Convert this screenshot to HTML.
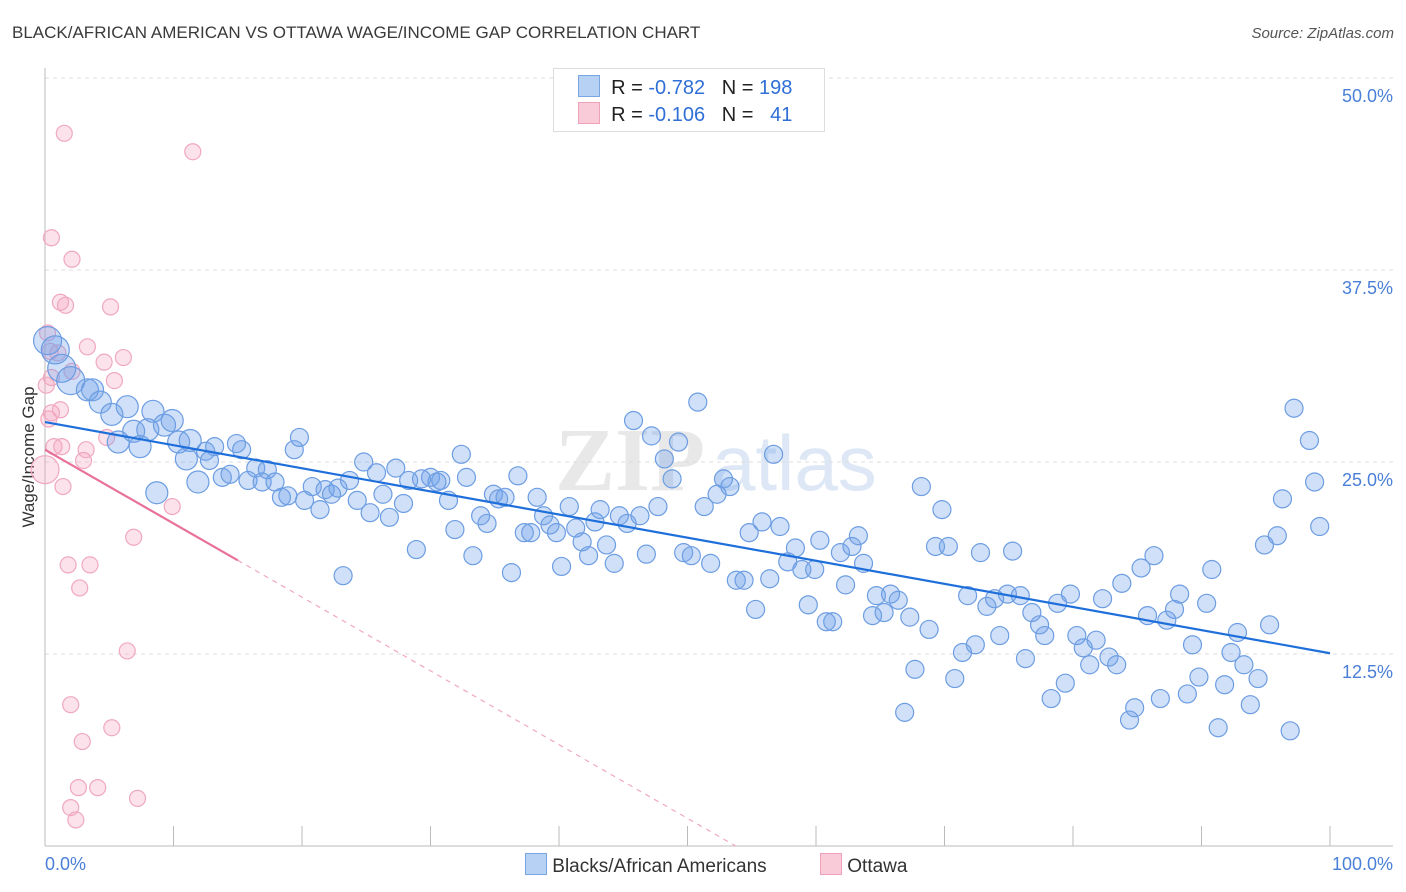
<!DOCTYPE html>
<html><head><meta charset="utf-8">
<style>
body{margin:0;background:#fff;font-family:"Liberation Sans",sans-serif;}
#wrap{position:relative;width:1406px;height:892px;overflow:hidden;}
.t{position:absolute;white-space:nowrap;}
</style></head>
<body>
<div id="wrap">
<div class="t" style="left:12px;top:23px;font-size:17px;color:#3a3a3a;">BLACK/AFRICAN AMERICAN VS OTTAWA WAGE/INCOME GAP CORRELATION CHART</div>
<div class="t" style="right:12px;top:25px;font-size:15px;color:#555;font-style:italic;">Source: ZipAtlas.com</div>
<svg id="plot" width="1406" height="892" style="position:absolute;left:0;top:0"></svg>
</div>
<script>
const blueX=[0.2,0.8,1.3,2.0,3.3,3.7,4.3,5.2,5.7,6.4,6.9,7.4,8.0,8.4,8.7,9.3,9.9,10.4,11.0,11.3,11.9,12.5,12.8,13.2,13.8,14.4,14.9,15.3,15.8,16.4,16.9,17.3,17.9,18.4,18.9,19.4,19.8,20.2,20.8,21.4,21.8,22.3,22.8,23.2,23.7,24.3,24.8,25.3,25.8,26.3,26.8,27.3,27.9,28.3,28.9,29.3,30.0,30.5,30.8,31.4,31.9,32.4,32.8,33.3,33.9,34.4,34.9,35.3,35.8,36.3,36.8,37.3,37.8,38.3,38.8,39.3,39.8,40.2,40.8,41.3,41.8,42.3,42.8,43.2,43.7,44.3,44.7,45.3,45.8,46.3,46.8,47.2,47.7,48.2,48.8,49.3,49.7,50.3,50.8,51.3,51.8,52.3,52.8,53.3,53.8,54.4,54.8,55.3,55.8,56.4,56.7,57.2,57.8,58.4,58.9,59.4,59.9,60.3,60.8,61.3,61.9,62.3,62.8,63.3,63.7,64.4,64.7,65.3,65.8,66.4,66.9,67.3,67.7,68.2,68.8,69.3,69.8,70.3,70.8,71.4,71.8,72.4,72.8,73.3,73.9,74.3,74.9,75.3,75.9,76.3,76.8,77.4,77.8,78.3,78.8,79.4,79.8,80.3,80.8,81.3,81.8,82.3,82.8,83.4,83.8,84.4,84.8,85.3,85.8,86.3,86.8,87.3,87.9,88.3,88.9,89.3,89.8,90.4,90.8,91.3,91.8,92.3,92.8,93.3,93.8,94.4,94.9,95.3,95.9,96.3,96.9,97.2,98.4,98.8,99.2];
const blueY=[32.9,32.3,31.1,30.3,29.7,29.7,28.9,28.1,26.3,28.6,27.0,26.0,27.1,28.3,23.0,27.4,27.7,26.3,25.2,26.4,23.7,25.7,25.1,26.0,24.0,24.2,26.2,25.8,23.8,24.6,23.7,24.5,23.7,22.7,22.8,25.8,26.6,22.5,23.4,21.9,23.2,22.9,23.3,17.6,23.8,22.5,25.0,21.7,24.3,22.9,21.4,24.6,22.3,23.8,19.3,23.9,24.0,23.7,23.8,22.5,20.6,25.5,24.0,18.9,21.5,21.0,22.9,22.6,22.7,17.8,24.1,20.4,20.4,22.7,21.5,20.9,20.4,18.2,22.1,20.7,19.8,18.9,21.1,21.9,19.6,18.4,21.5,21.0,27.7,21.5,19.0,26.7,22.1,25.2,23.9,26.3,19.1,18.9,28.9,22.1,18.4,22.9,23.9,23.4,17.3,17.3,20.4,15.4,21.1,17.4,25.5,20.8,18.5,19.4,18.0,15.7,18.0,19.9,14.6,14.6,19.1,17.0,19.5,20.2,18.4,15.0,16.3,15.2,16.4,16.0,8.7,14.9,11.5,23.4,14.1,19.5,21.9,19.5,10.9,12.6,16.3,13.1,19.1,15.6,16.1,13.7,16.4,19.2,16.3,12.2,15.2,14.4,13.7,9.6,15.8,10.6,16.4,13.7,12.9,11.8,13.4,16.1,12.3,11.8,17.1,8.2,9.0,18.1,15.0,18.9,9.6,14.7,15.4,16.4,9.9,13.1,11.0,15.8,18.0,7.7,10.5,12.6,13.9,11.8,9.2,10.9,19.6,14.4,20.2,22.6,7.5,28.5,26.4,23.7,20.8];
const pinkX=[0.2,0.4,0.5,0.5,0.5,0.7,1.2,1.3,1.4,1.2,1.5,1.6,1.8,2.0,2.1,2.1,2.0,2.4,2.6,2.9,2.7,3.0,3.2,3.3,3.5,4.1,4.6,4.8,5.1,5.2,5.4,6.1,6.4,6.9,7.2,9.9,11.5,0.0,0.1,1.0,0.3];
const pinkY=[33.4,32.2,39.6,30.5,28.2,26.0,28.4,26.0,23.4,35.4,46.4,35.2,18.3,9.2,38.2,30.9,2.5,1.7,3.8,6.8,16.8,25.1,25.8,32.5,18.3,3.8,31.5,26.6,35.1,7.7,30.3,31.8,12.7,20.1,3.1,22.1,45.2,24.5,30.0,32.1,27.8];
const blueLine=[27.6,12.55];
const pinkLine=[25.8,18.6,15];
const yTicks=[12.5,25.0,37.5,50.0];
const xTickVals=[0,10,20,30,40,50,60,70,80,90,100];

const X0=45,X1=1330,Y0=846,PY=15.36;
const sx=v=>X0+v*(X1-X0)/100, sy=v=>Y0-v*PY;
const svg=document.getElementById('plot');
const NS='http://www.w3.org/2000/svg';
function mk(tag,attrs,parent){const e=document.createElementNS(NS,tag);for(const k in attrs)e.setAttribute(k,attrs[k]);(parent||svg).appendChild(e);return e;}

let wm=mk('text',{x:555,y:490,'font-size':90,'font-family':'Liberation Serif,serif',fill:'#e8e8e8','font-weight':'bold'});
wm.textContent='ZIP';


let wm2=mk('text',{x:712,y:490,'font-size':78,'font-family':'Liberation Sans,sans-serif',fill:'#dde7f5'});
wm2.textContent='atlas';



yTicks.forEach(v=>{
 let g=mk('line',{x1:X0,x2:1393,y1:sy(v),y2:sy(v),stroke:'#dcdcdc','stroke-dasharray':'4,4'});
 
 
 let t=mk('text',{x:1393,y:sy(v)+24,'text-anchor':'end','font-size':18,fill:'#4a7fd8','font-family':'Liberation Sans,sans-serif'});
 t.textContent=v.toFixed(1)+'%';
 
 
});
let ax=mk('line',{x1:X0,x2:1393,y1:Y0,y2:Y0,stroke:'#bbb'});


let ay=mk('line',{x1:X0,x2:X0,y1:68,y2:Y0,stroke:'#bbb'});


xTickVals.forEach(v=>{
 let t=mk('line',{x1:sx(v),x2:sx(v),y1:826,y2:Y0,stroke:'#bbb'});
 
 
});
[[0,'start',45,'0.0%'],[100,'end',1393,'100.0%']].forEach(a=>{
 let t=mk('text',{x:a[2],y:870,'text-anchor':a[1],'font-size':18,fill:'#4a7fd8','font-family':'Liberation Sans,sans-serif'});
 t.textContent=a[3];
 
 
});
let yt=mk('text',{x:34,y:457,'text-anchor':'middle','font-size':17,fill:'#333',transform:'rotate(-90 34 457)','font-family':'Liberation Sans,sans-serif'});
yt.textContent='Wage/Income Gap';



pinkX.forEach((x,i)=>{
 const r=(i==37)?14:8;
 let c=mk('circle',{cx:sx(x),cy:sy(pinkY[i]),r:r,fill:'rgba(244,160,188,0.3)',stroke:'#f0a8c0','stroke-width':1.2});
 
 
});
blueX.forEach((x,i)=>{
 const r=x<3?14:(x<12?11:9);
 let c=mk('circle',{cx:sx(x),cy:sy(blueY[i]),r:r,fill:'rgba(110,160,235,0.33)',stroke:'#6d9de2','stroke-width':1.2});
 
 
});
let bl=mk('line',{x1:sx(0),y1:sy(blueLine[0]),x2:sx(100),y2:sy(blueLine[1]),stroke:'#1f6fdb','stroke-width':2.2});


const slope=(pinkLine[1]-pinkLine[0])/pinkLine[2];
const xz=-pinkLine[0]/slope;
let pl=mk('line',{x1:sx(0),y1:sy(pinkLine[0]),x2:sx(pinkLine[2]),y2:sy(pinkLine[1]),stroke:'#e8709a','stroke-width':2.2});


let pd=mk('line',{x1:sx(pinkLine[2]),y1:sy(pinkLine[1]),x2:sx(xz),y2:sy(0),stroke:'#f0a8c0','stroke-width':1.2,'stroke-dasharray':'5,5'});


</script>
<div class="t" style="left:553px;top:68px;width:270px;height:62px;border:1px solid #ddd;background:#fff;"></div>
<div class="t" style="left:578px;top:75px;font-size:20px;color:#222;">
<span style="display:inline-block;width:20px;height:20px;background:#b7d1f5;border:1px solid #7aa6e4;vertical-align:-3px;"></span>
&nbsp;R = <span style="color:#2f6fd6">-0.782</span>&nbsp;&nbsp;&nbsp;N = <span style="color:#2f6fd6">198</span></div>
<div class="t" style="left:578px;top:102px;font-size:20px;color:#222;">
<span style="display:inline-block;width:20px;height:20px;background:#f9cbd9;border:1px solid #f0a0b8;vertical-align:-3px;"></span>
&nbsp;R = <span style="color:#2f6fd6">-0.106</span>&nbsp;&nbsp;&nbsp;N = &nbsp;&nbsp;<span style="color:#2f6fd6">41</span></div>
<div class="t" style="left:525px;top:853px;font-size:19px;color:#333;">
<span style="display:inline-block;width:20px;height:20px;background:#b7d1f5;border:1px solid #7aa6e4;vertical-align:-3px;"></span>&nbsp;Blacks/African Americans</div>
<div class="t" style="left:820px;top:853px;font-size:19px;color:#333;">
<span style="display:inline-block;width:20px;height:20px;background:#f9cbd9;border:1px solid #f0a0b8;vertical-align:-3px;"></span>&nbsp;Ottawa</div>
</body></html>
